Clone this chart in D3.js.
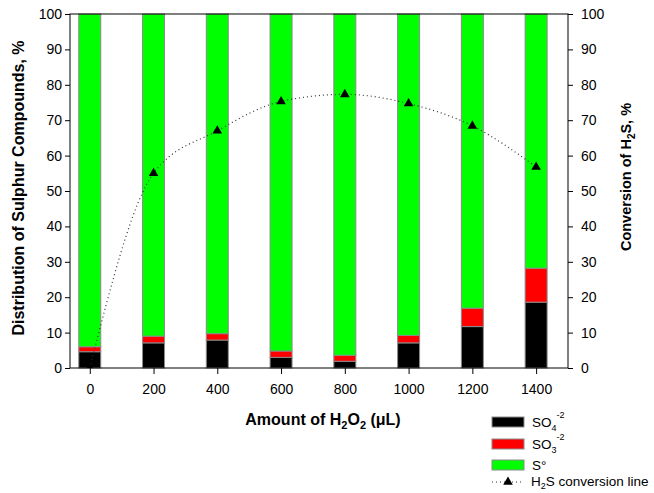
<!DOCTYPE html>
<html>
<head>
<meta charset="utf-8">
<script src="https://cdn.jsdelivr.net/npm/d3@7"></script>
<style>
  html, body { margin: 0; padding: 0; background: #fff; }
  svg { display: block; font-family: Arial, "Liberation Sans", sans-serif; }
</style>
</head>
<body>
<svg id="chart" width="654" height="493"></svg>
<script>
// H2O2 dose (µL) on the x axis
const doses = [0, 200, 400, 600, 800, 1000, 1200, 1400];
// Distribution of sulphur products, %
const sulfate = [4.6, 7.1, 7.9, 3.0, 1.9, 7.1, 11.7, 18.6];   // SO4^-2
const sulfite = [1.4, 1.9, 1.8, 1.8, 1.7, 2.1, 5.2, 9.6];     // SO3^-2
const sulfur  = [94.0, 91.0, 90.3, 95.2, 96.4, 90.8, 83.1, 71.8]; // S°
// H2S conversion, %
const conversion = [0, 55.0, 67.0, 75.3, 77.3, 74.7, 68.4, 56.8];
// Tick labels
const yTicks = [0, 10, 20, 30, 40, 50, 60, 70, 80, 90, 100];

const svg = d3.select("#chart");
const plot = { left: 70, right: 568, top: 14, bottom: 368 };

const x = d3.scaleLinear().domain([-62, 1500]).range([plot.left, plot.right]);
const y = d3.scaleLinear().domain([0, 100]).range([plot.bottom, plot.top]);
const y2 = d3.scaleLinear().domain([0, 100]).range([plot.bottom, plot.top]);

const rows = doses.map((d, i) => ({ dose: d, so4: sulfate[i], so3: sulfite[i], s0: sulfur[i] }));
const keys = ["so4", "so3", "s0"];
const colors = { so4: "#000000", so3: "#ff0000", s0: "#00ff00" };
const stacked = d3.stack().keys(keys)(rows);

const barW = 22;

// stacked bars
svg.append("g").selectAll("g")
  .data(stacked).join("g")
  .attr("fill", d => colors[d.key])
  .selectAll("rect")
  .data(d => d).join("rect")
  .attr("x", d => x(d.data.dose) - barW / 2)
  .attr("width", barW)
  .attr("y", d => y(d[1]))
  .attr("height", d => y(d[0]) - y(d[1]))
  .attr("stroke", "#8c8c8c")
  .attr("stroke-width", 1);

// clip for the conversion series
svg.append("clipPath").attr("id", "plotClip")
  .append("rect").attr("x", plot.left).attr("y", plot.top)
  .attr("width", plot.right - plot.left).attr("height", plot.bottom - plot.top);

const convPts = doses.map((d, i) => [d, conversion[i]]);
const line = d3.line()
  .x(d => x(d[0]))
  .y(d => y2(d[1]))
  .curve(d3.curveMonotoneX);

const conv = svg.append("g").attr("clip-path", "url(#plotClip)");
conv.append("path")
  .attr("d", line(convPts))
  .attr("fill", "none")
  .attr("stroke", "#333")
  .attr("stroke-width", 1.2)
  .attr("stroke-dasharray", "1,3");

const tri = d3.symbol().type(d3.symbolTriangle).size(40);
conv.selectAll("path.marker")
  .data(convPts).join("path")
  .attr("class", "marker")
  .attr("d", tri)
  .attr("transform", d => `translate(${x(d[0])},${y2(d[1])})`)
  .attr("fill", "#000");

// frame
svg.append("rect")
  .attr("x", plot.left).attr("y", plot.top)
  .attr("width", plot.right - plot.left).attr("height", plot.bottom - plot.top)
  .attr("fill", "none").attr("stroke", "#000").attr("stroke-width", 1);

// axes
const styleAxis = g => {
  g.select(".domain").remove();
  g.selectAll("line").attr("stroke", "#000");
  g.selectAll("text").attr("font-size", 14).attr("fill", "#000")
    .attr("font-family", 'Arial, "Liberation Sans", sans-serif');
};

svg.append("g").attr("transform", `translate(${plot.left},0)`)
  .call(d3.axisLeft(y).tickValues(yTicks).tickSize(5).tickPadding(3))
  .call(styleAxis);

svg.append("g").attr("transform", `translate(${plot.right},0)`)
  .call(d3.axisRight(y2).tickValues(yTicks).tickSize(5).tickPadding(8))
  .call(styleAxis);

svg.append("g").attr("transform", `translate(0,${plot.bottom})`)
  .call(d3.axisBottom(x).tickValues(doses).tickSize(6).tickPadding(10).tickFormat(d3.format("d")))
  .call(styleAxis);

// axis titles
svg.append("text")
  .attr("transform", `translate(24,${(plot.top + plot.bottom) / 2 - 3}) rotate(-90)`)
  .attr("text-anchor", "middle")
  .attr("font-size", 16).attr("font-weight", "bold")
  .text("Distribution of Sulphur Compounds, %");

const rt = svg.append("text")
  .attr("transform", `translate(631,177) rotate(-90)`)
  .attr("text-anchor", "middle")
  .attr("font-size", 14.5).attr("font-weight", "bold");
rt.append("tspan").text("Conversion of H");
rt.append("tspan").attr("font-size", 10).attr("dy", 4).text("2");
rt.append("tspan").attr("dy", -4).text("S, %");

const xt = svg.append("text")
  .attr("x", 323).attr("y", 425)
  .attr("text-anchor", "middle")
  .attr("font-size", 16).attr("font-weight", "bold");
xt.append("tspan").text("Amount of H");
xt.append("tspan").attr("font-size", 11).attr("dy", 4).text("2");
xt.append("tspan").attr("dy", -4).text("O");
xt.append("tspan").attr("font-size", 11).attr("dy", 4).text("2");
xt.append("tspan").attr("dy", -4).text(" (\u03bcL)");

// legend
const lg = svg.append("g").attr("font-size", 13.5);
const legendBars = [
  { key: "so4", base: "SO", sub: "4", sup: "-2", cy: 422 },
  { key: "so3", base: "SO", sub: "3", sup: "-2", cy: 444 },
  { key: "s0",  base: "S\u00b0", sub: null, sup: null, cy: 465 }
];
legendBars.forEach(e => {
  lg.append("rect")
    .attr("x", 492).attr("y", e.cy - 5).attr("width", 32).attr("height", 10)
    .attr("fill", colors[e.key]).attr("stroke", "#8c8c8c");
  const t = lg.append("text").attr("x", 532).attr("y", e.cy + 5);
  t.append("tspan").text(e.base);
  if (e.sub) {
    t.append("tspan").attr("font-size", 9).attr("dy", 4).text(e.sub);
    t.append("tspan").attr("font-size", 9).attr("dy", -13).text(e.sup);
  }
});
lg.append("line")
  .attr("x1", 492).attr("x2", 524).attr("y1", 482).attr("y2", 482)
  .attr("stroke", "#333").attr("stroke-width", 1.2).attr("stroke-dasharray", "1,3");
lg.append("path").attr("d", tri).attr("transform", "translate(508,482)").attr("fill", "#000");
const lt = lg.append("text").attr("x", 531).attr("y", 486);
lt.append("tspan").text("H");
lt.append("tspan").attr("font-size", 9).attr("dy", 3).text("2");
lt.append("tspan").attr("dy", -3).text("S conversion line");
</script>
</body>
</html>
